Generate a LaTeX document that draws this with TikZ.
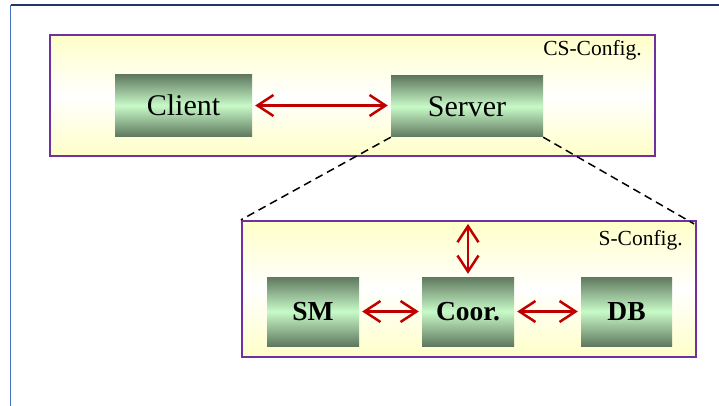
\documentclass[tikz,border=0pt]{standalone}
\usepackage{fontspec}
\setmainfont{Liberation Serif}
\usetikzlibrary{arrows.meta}
\definecolor{cfgpurple}{HTML}{7030A0}
\definecolor{cfgyellow}{HTML}{FFFFC8}
\definecolor{boxdark}{HTML}{5F785F}
\definecolor{boxlight}{HTML}{C8FAC8}
\definecolor{arrred}{HTML}{C00000}
\definecolor{frametop}{HTML}{1F3864}
\definecolor{frameleft}{HTML}{4472C4}
\tikzset{
  cfgbox/.style={draw=cfgpurple, line width=2.2pt, top color=cfgyellow, bottom color=cfgyellow, middle color=white, inner sep=0pt},
  greenbox/.style={top color=boxdark, bottom color=boxdark, middle color=boxlight, inner sep=0pt, text=black},
  bigtext/.style={font=\fontsize{30}{33}\selectfont},
  boldtext/.style={font=\fontsize{27.5}{31}\selectfont\bfseries},
  cfglabel/.style={font=\fontsize{21.5}{24}\selectfont, anchor=base east, inner sep=0pt},
  biarrow/.style={draw=arrred, line width=2.5pt, {Straight Barb[length=16pt,width=21pt]}-{Straight Barb[length=16pt,width=21pt]}},
  zoomline/.style={draw=black, line width=1.5pt, dash pattern=on 8pt off 5pt}
}
\begin{document}
\begin{tikzpicture}[x=1pt,y=-1pt]
\useasboundingbox (0,0) rectangle (719,406);
\fill[white] (0,0) rectangle (719,406);
% outer frame
\draw[frametop, line width=1.5pt] (10.5,5) -- (719,5);
\draw[frameleft, line width=1.8pt] (10.5,5) -- (10.5,406);
% config boxes
\node[cfgbox, minimum width=605pt, minimum height=121pt] (cs) at (352.5,95.5) {};
\node[cfgbox, minimum width=454pt, minimum height=136pt] (sc) at (469,289) {};
\node[cfglabel] (cslabel) at (642,56) {CS-Config.};
\node[cfglabel] (sclabel) at (683,245) {S-Config.};
% boxes
\node[greenbox, bigtext, minimum width=137pt, minimum height=62pt] (client) at (183.5,105.5) {Client};
\node[greenbox, bigtext, minimum width=152pt, minimum height=61pt] (server) at (467,106.5) {Server};
\node[greenbox, boldtext, minimum width=92pt, minimum height=69pt] (sm) at (313,311.5) {SM};
\node[greenbox, boldtext, minimum width=92pt, minimum height=69pt] (coor) at (468,311.5) {Coor.};
\node[greenbox, boldtext, minimum width=91pt, minimum height=69pt] (db) at (626.5,311.5) {DB};
% zoom lines
\draw[zoomline] (server.south west) -- (sc.north west);
\draw[zoomline] (server.south east) -- ([xshift=-3pt,yshift=-4pt]sc.north east);
% arrows
\draw[biarrow, shorten <=3pt, shorten >=3pt] (client.east) -- (client.east -| server.west);
\draw[biarrow, shorten <=3pt, shorten >=3pt] (sm.east) -- (coor.west);
\draw[biarrow, shorten <=3pt, shorten >=3pt] (coor.east) -- (db.west);
\draw[biarrow, shorten <=4pt, shorten >=3pt] (sc.north -| coor.north) -- (coor.north);
\end{tikzpicture}
\end{document}
